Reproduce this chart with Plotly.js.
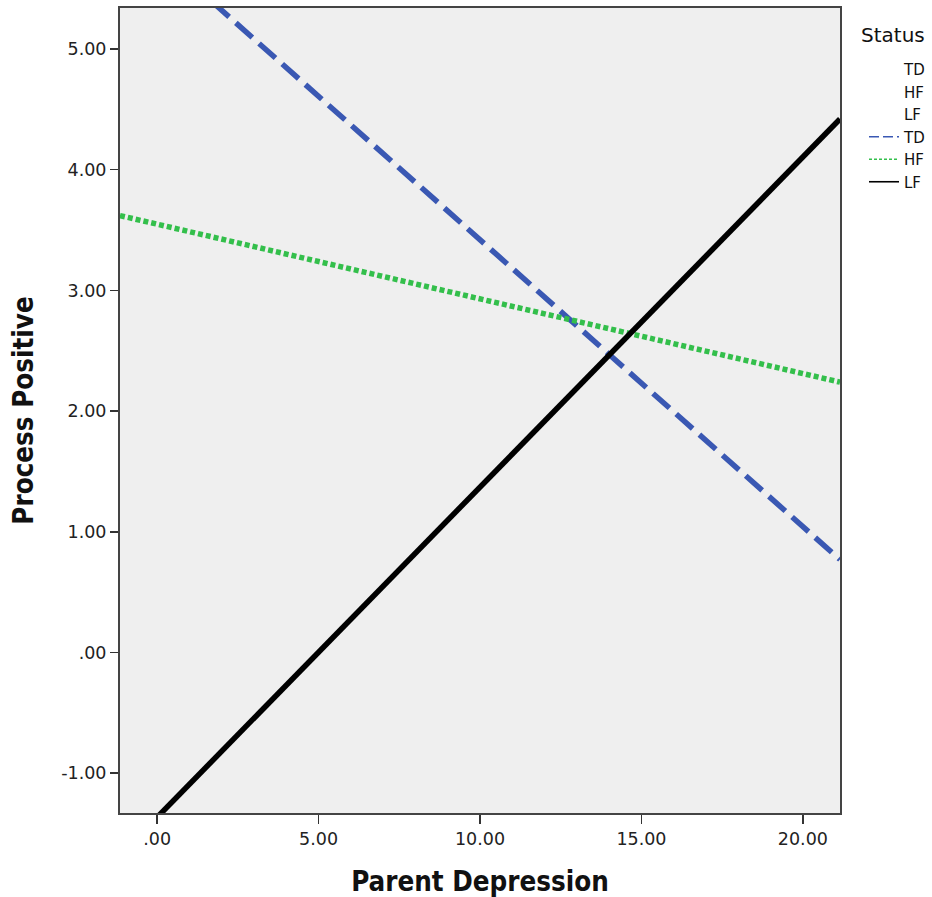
<!DOCTYPE html>
<html>
<head>
<meta charset="utf-8">
<script src="https://cdn.plot.ly/plotly-3.0.1.min.js"></script>
<style>html,body{margin:0;padding:0;background:#fff;}#chart{width:932px;height:897px;}</style>
</head>
<body>
<div id="chart"></div>
<script>
// Status groups
const statusNames = ['TD', 'HF', 'LF'];
// Fit-line endpoints (Parent Depression)
const xEnds = [-1.15, 21.15];
// Process Positive at those endpoints
const tdY = [6.07, 0.77];
const hfY = [3.62, 2.24];
const lfY = [-1.68, 4.42];
// Axis ticks
const xTickVals = [0, 5, 10, 15, 20];
const xTickText = ['.00', '5.00', '10.00', '15.00', '20.00'];
const yTickVals = [-1, 0, 1, 2, 3, 4, 5];
const yTickText = ['-1.00', '.00', '1.00', '2.00', '3.00', '4.00', '5.00'];

const lineColors = ['#3a58b3', '#33bf4b', '#000000'];
const lineDash = ['22px,9px', '5px,3px', 'solid'];
const legendDash = ['10px,4px', '3px,2px', 'solid'];
const series = [tdY, hfY, lfY];

const traces = [];
// fit lines (drawn through the axes)
statusNames.forEach((n, i) => {
  traces.push({x: xEnds, y: series[i], type: 'scatter', mode: 'lines', name: n,
    line: {color: lineColors[i], width: 5.5, dash: lineDash[i]}, showlegend: false});
});
// legend: observed-point entries (no symbol)
statusNames.forEach(n => {
  traces.push({x: [null], y: [null], type: 'scatter', mode: 'lines', name: n,
    line: {width: 0, color: 'rgba(0,0,0,0)'}, showlegend: true, hoverinfo: 'skip', legendrank: 1});
});
// legend: fit-line entries (thin lines)
statusNames.forEach((n, i) => {
  traces.push({x: [null], y: [null], type: 'scatter', mode: 'lines', name: n,
    line: {color: lineColors[i], width: 1.6, dash: legendDash[i]}, showlegend: true, hoverinfo: 'skip', legendrank: 2});
});

const tickFont = {family: 'DejaVu Sans, Verdana, sans-serif', size: 17.5, color: '#222'};
const titleFont = {family: '"DejaVu Sans Condensed", "DejaVu Sans", sans-serif', size: 27.5, color: '#111', weight: 'bold'};

const plotW = 932 - 120 - 92, plotH = 897 - 8 - 84;

const layout = {
  width: 932, height: 897,
  margin: {l: 120, r: 92, t: 8, b: 84, pad: 0, autoexpand: false},
  paper_bgcolor: '#ffffff',
  plot_bgcolor: '#efefef',
  showlegend: true,
  legend: {
    x: (864 - 120) / plotW, xanchor: 'left',
    y: 1 - (53 - 8) / plotH, yanchor: 'top',
    font: {family: 'DejaVu Sans, sans-serif', size: 15, color: '#111'},
    bgcolor: 'rgba(0,0,0,0)', tracegroupgap: 0
  },
  annotations: [{
    text: 'Status', xref: 'paper', yref: 'paper',
    x: (859 - 120) / plotW, xanchor: 'left',
    y: 1 - (35 - 8) / plotH, yanchor: 'middle',
    showarrow: false, font: {family: 'DejaVu Sans, sans-serif', size: 20, color: '#111'}
  }],
  xaxis: {
    range: [-1.15, 21.15], tickvals: xTickVals, ticktext: xTickText,
    ticks: 'outside', ticklen: 9, tickwidth: 1.5, tickcolor: '#333',
    showline: true, linecolor: '#444', linewidth: 2, mirror: true,
    showgrid: false, zeroline: false, tickfont: tickFont,
    title: {text: 'Parent Depression', font: titleFont, standoff: 24}
  },
  yaxis: {
    range: [-1.33, 5.34], tickvals: yTickVals, ticktext: yTickText,
    ticks: 'outside', ticklen: 8, tickwidth: 1.5, tickcolor: '#333',
    showline: true, linecolor: '#444', linewidth: 2, mirror: true,
    showgrid: false, zeroline: false, tickfont: tickFont,
    title: {text: 'Process Positive', font: titleFont, standoff: 20}
  }
};

Plotly.newPlot('chart', traces, layout, {displayModeBar: false, staticPlot: true});
</script>
</body>
</html>
